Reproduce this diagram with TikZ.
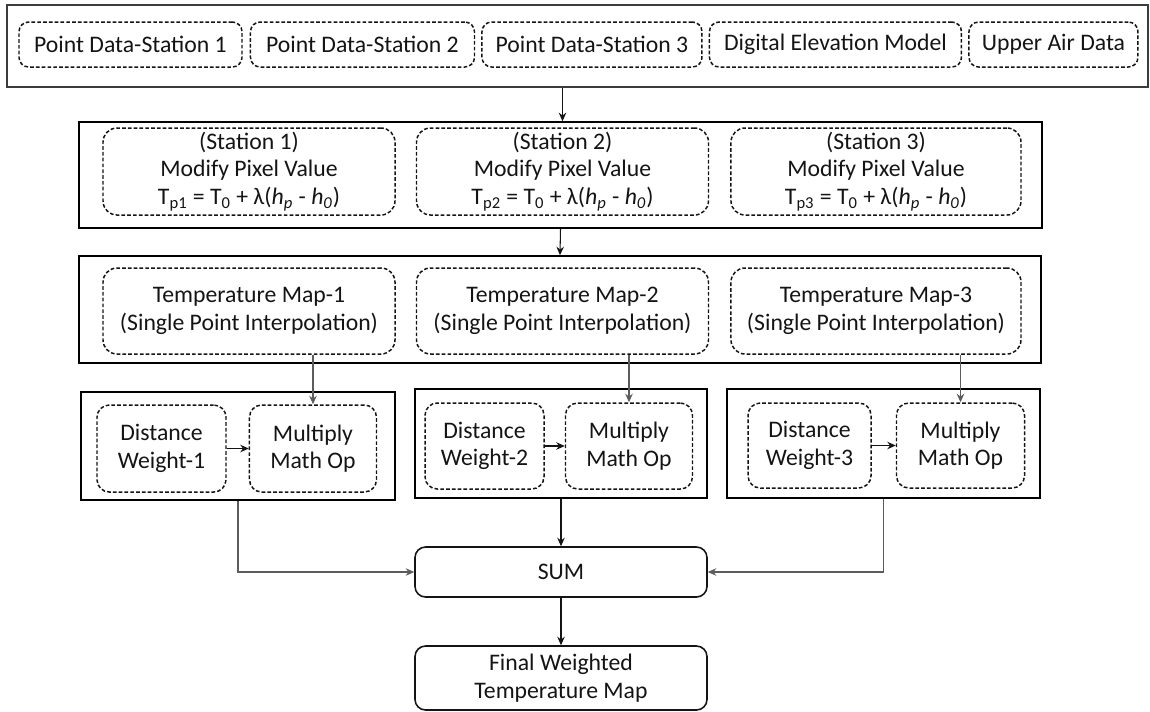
\documentclass[tikz,border=0pt]{standalone}
\usepackage{fontspec}
\setmainfont{Carlito}
\usetikzlibrary{arrows.meta, positioning}
\definecolor{framegray}{HTML}{3C3C3C}
\definecolor{wiregray}{HTML}{5C5C5C}
\definecolor{inkblack}{HTML}{141414}

\begin{document}
\begin{tikzpicture}[
      font=\fontsize{13.5}{15.6}\selectfont,
      node distance=0.12cm,
      panel/.style={rectangle, draw=black, line width=0.9pt, inner sep=0pt},
      toppanel/.style={panel, draw=framegray, line width=1.2pt},
      dbox/.style={rectangle, rounded corners=8pt, draw=inkblack, line width=0.85pt,
                   dash pattern=on 2.1pt off 1.2pt, align=center, inner sep=0pt, text=inkblack},
      srcbox/.style={dbox, rounded corners=5.5pt, minimum height=0.9cm},
      stbox/.style={dbox, minimum width=5.84cm, minimum height=1.74cm},
      mapbox/.style={dbox, minimum width=5.84cm, minimum height=1.72cm},
      opbox/.style={dbox, rounded corners=7pt, minimum height=1.74cm},
      solidbox/.style={rectangle, rounded corners=6pt, draw=inkblack, line width=0.9pt,
                       minimum width=5.84cm, align=center, inner sep=0pt, text=inkblack},
      arr/.style={-{Stealth[length=1.7mm, width=1.5mm]}, line width=0.6pt, inkblack},
      grayarr/.style={arr, wiregray}
    ]
      \useasboundingbox (0,0) rectangle (23,-14.22);

      % input data
      \node[toppanel, minimum width=22.82cm, minimum height=1.64cm] (inputs) at (11.55,-0.92) {};
      \node[srcbox, minimum width=4.46cm] (pds1) at (2.61,-0.89) {Point Data-Station 1};
      \node[srcbox, minimum width=4.48cm, right=0.14cm of pds1] (pds2) {Point Data-Station 2};
      \node[srcbox, minimum width=4.40cm, right=of pds2] (pds3) {Point Data-Station 3};
      \node[srcbox, minimum width=5.04cm, right=of pds3] (dem) {Digital Elevation Model};
      \node[srcbox, minimum width=3.38cm, right=of dem] (uad) {Upper Air Data};

      % lapse rate correction
      \node[panel, minimum width=19.26cm, minimum height=2.12cm] (modrow) at (11.21,-3.50) {};
      \node[stbox] (st1) at (4.98,-3.43) {(Station 1)\\Modify Pixel Value\\
        T\textsubscript{p1} = T\textsubscript{0} + λ(\textit{h}\textsubscript{\textit{p}} - \textit{h}\textsubscript{\textit{0}})};
      \node[stbox, right=0.40cm of st1] (st2) {(Station 2)\\Modify Pixel Value\\
        T\textsubscript{p2} = T\textsubscript{0} + λ(\textit{h}\textsubscript{\textit{p}} - \textit{h}\textsubscript{\textit{0}})};
      \node[stbox, minimum width=5.80cm, right=0.42cm of st2] (st3) {(Station 3)\\Modify Pixel Value\\
        T\textsubscript{p3} = T\textsubscript{0} + λ(\textit{h}\textsubscript{\textit{p}} - \textit{h}\textsubscript{\textit{0}})};

      % single point maps
      \node[panel, minimum width=19.24cm, minimum height=2.14cm] (maprow) at (11.20,-6.19) {};
      \node[mapbox] (map1) at (4.98,-6.22) {Temperature Map-1\\(Single Point Interpolation)};
      \node[mapbox, right=0.40cm of map1] (map2) {Temperature Map-2\\(Single Point Interpolation)};
      \node[mapbox, minimum width=5.80cm, right=0.42cm of map2] (map3) {Temperature Map-3\\(Single Point Interpolation)};

      % weighting
      \node[panel, minimum width=6.28cm, minimum height=2.16cm] (wbox1) at (4.76,-8.92) {};
      \node[opbox, minimum width=2.58cm] (dist1) at (3.23,-8.97) {Distance\\Weight-1};
      \node[opbox, minimum width=2.54cm, right=0.44cm of dist1] (mult1) {Multiply\\Math Op};
      \node[panel, minimum width=5.84cm, minimum height=2.18cm] (wbox2) at (11.22,-8.87) {};
      \node[opbox, minimum width=2.38cm, minimum height=1.72cm] (dist2) at (9.69,-8.92) {Distance\\Weight-2};
      \node[opbox, minimum width=2.54cm, minimum height=1.72cm, right=0.40cm of dist2] (mult2) {Multiply\\Math Op};
      \node[panel, minimum width=6.26cm, minimum height=2.18cm] (wbox3) at (17.67,-8.87) {};
      \node[opbox, minimum width=2.46cm, minimum height=1.70cm] (dist3) at (16.19,-8.91) {Distance\\Weight-3};
      \node[opbox, minimum width=2.56cm, minimum height=1.70cm, right=0.48cm of dist3] (mult3) {Multiply\\Math Op};

      % output
      \node[solidbox, minimum height=1.00cm] (sum) at (11.22,-11.44) {SUM};
      \node[solidbox, minimum height=1.28cm] (final) at (11.22,-13.56) {Final Weighted\\Temperature Map};

      \draw[arr] (inputs.south -| st2) -- (modrow.north -| st2);
      \draw[arr] (modrow.south) -- (maprow.south |- maprow.north);
      \draw[grayarr] (map1.south -| mult1) -- (mult1.north);
      \draw[grayarr] (map2.south -| mult2) -- (mult2.north);
      \draw[grayarr] (map3.south -| mult3) -- (mult3.north);
      \draw[arr] (dist1) -- (mult1);
      \draw[arr] (dist2) -- (mult2);
      \draw[arr] (dist3) -- (mult3);
      \draw[grayarr] (wbox1.south) |- (sum.west);
      \draw[arr] (wbox2.south) -- (sum.north);
      \draw[grayarr] (wbox3.south) |- (sum.east);
      \draw[arr] (sum) -- (final);
    \end{tikzpicture}
\end{document}
